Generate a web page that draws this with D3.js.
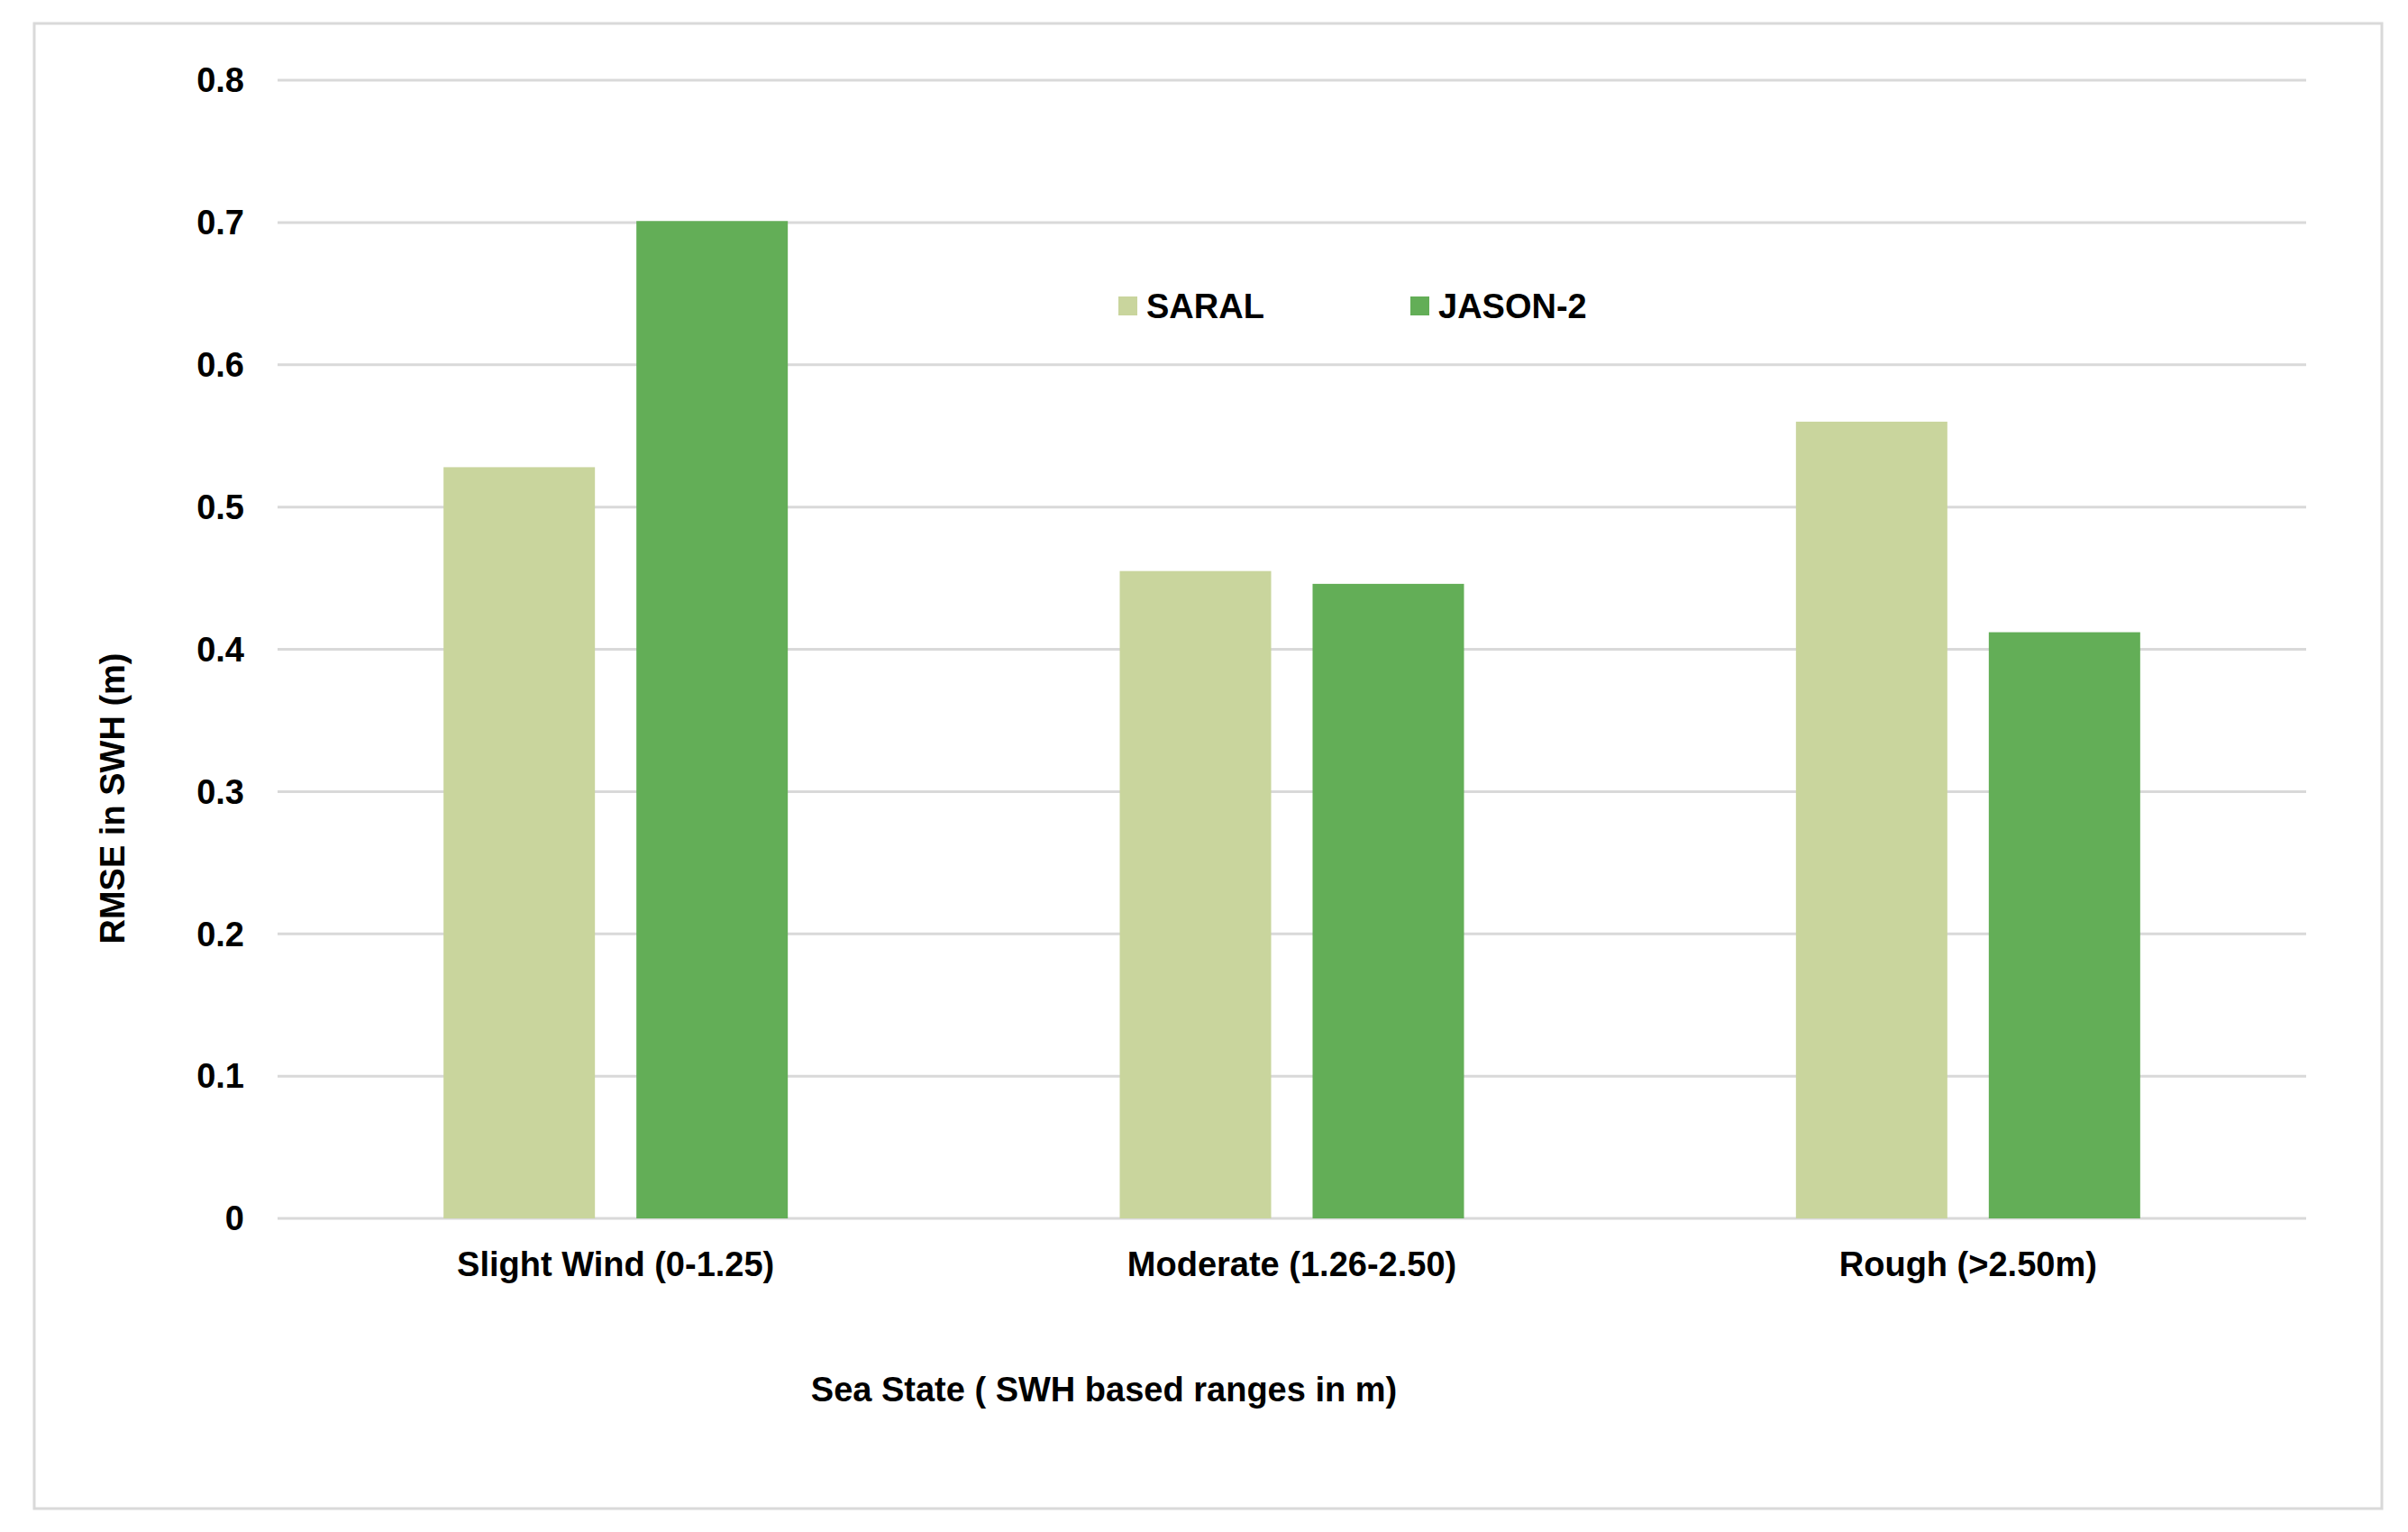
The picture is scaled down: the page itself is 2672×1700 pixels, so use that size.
<!DOCTYPE html>
<html>
<head>
<meta charset="utf-8">
<script src="https://cdn.jsdelivr.net/npm/d3@7"></script>
<style>
  body { margin: 0; background: #fff; }
  text { font-family: "Liberation Sans", Arial, sans-serif; font-weight: bold; fill: #000; }
</style>
</head>
<body>
<svg id="chart" width="2672" height="1700"></svg>
<script>
// data
const categories = ["Slight Wind (0-1.25)", "Moderate (1.26-2.50)", "Rough (>2.50m)"];
const seriesNames = ["SARAL", "JASON-2"];
const saral = [0.528, 0.455, 0.560];
const jason2 = [0.701, 0.446, 0.412];
const yTicks = [0, 0.1, 0.2, 0.3, 0.4, 0.5, 0.6, 0.7, 0.8];
const colors = ["#c9d59d", "#63ae57"];

const svg = d3.select("#chart");

// outer frame
svg.append("rect")
    .attr("x", 38).attr("y", 26)
    .attr("width", 2605).attr("height", 1648)
    .attr("fill", "#fff").attr("stroke", "#d9d9d9").attr("stroke-width", 3);

const plotLeft = 308, plotRight = 2559, plotTop = 89, plotBottom = 1352;

const x = d3.scaleBand().domain(categories).range([plotLeft, plotRight]);
const y = d3.scaleLinear().domain([0, 0.8]).range([plotBottom, plotTop]);

// gridlines
svg.append("g").selectAll("line")
    .data(yTicks)
    .join("line")
    .attr("x1", plotLeft).attr("x2", plotRight)
    .attr("y1", d => y(d)).attr("y2", d => y(d))
    .attr("stroke", "#d9d9d9").attr("stroke-width", 3);

// y tick labels
svg.append("g").selectAll("text")
    .data(yTicks)
    .join("text")
    .attr("x", 271).attr("y", d => y(d))
    .attr("dy", "0.35em")
    .attr("text-anchor", "end")
    .attr("font-size", 38)
    .text(d => d === 0 ? "0" : d.toFixed(1));

// bars
const barW = 168, gap = 46;
const series = [saral, jason2];
series.forEach((vals, si) => {
    svg.append("g").selectAll("rect")
        .data(vals)
        .join("rect")
        .attr("x", (d, i) => x(categories[i]) + x.bandwidth() / 2 - gap / 2 - barW + si * (barW + gap))
        .attr("y", d => y(d))
        .attr("width", barW)
        .attr("height", d => y(0) - y(d))
        .attr("fill", colors[si]);
});

// category labels
svg.append("g").selectAll("text")
    .data(categories)
    .join("text")
    .attr("x", d => x(d) + x.bandwidth() / 2)
    .attr("y", 1403)
    .attr("dy", "0.35em")
    .attr("text-anchor", "middle")
    .attr("font-size", 38)
    .text(d => d);

// legend
const legendX = [1241, 1565];
seriesNames.forEach((name, i) => {
    svg.append("rect")
        .attr("x", legendX[i]).attr("y", 329)
        .attr("width", 21).attr("height", 21)
        .attr("fill", colors[i]);
    svg.append("text")
        .attr("x", legendX[i] + 31).attr("y", 340)
        .attr("dy", "0.35em")
        .attr("font-size", 38)
        .text(name);
});

// axis titles
svg.append("text")
    .attr("x", 1225).attr("y", 1542)
    .attr("dy", "0.35em")
    .attr("text-anchor", "middle")
    .attr("font-size", 38)
    .text("Sea State ( SWH based ranges in m)");

svg.append("text")
    .attr("transform", "translate(125,886) rotate(-90)")
    .attr("dy", "0.35em")
    .attr("text-anchor", "middle")
    .attr("font-size", 38)
    .text("RMSE in SWH (m)");
</script>
</body>
</html>
